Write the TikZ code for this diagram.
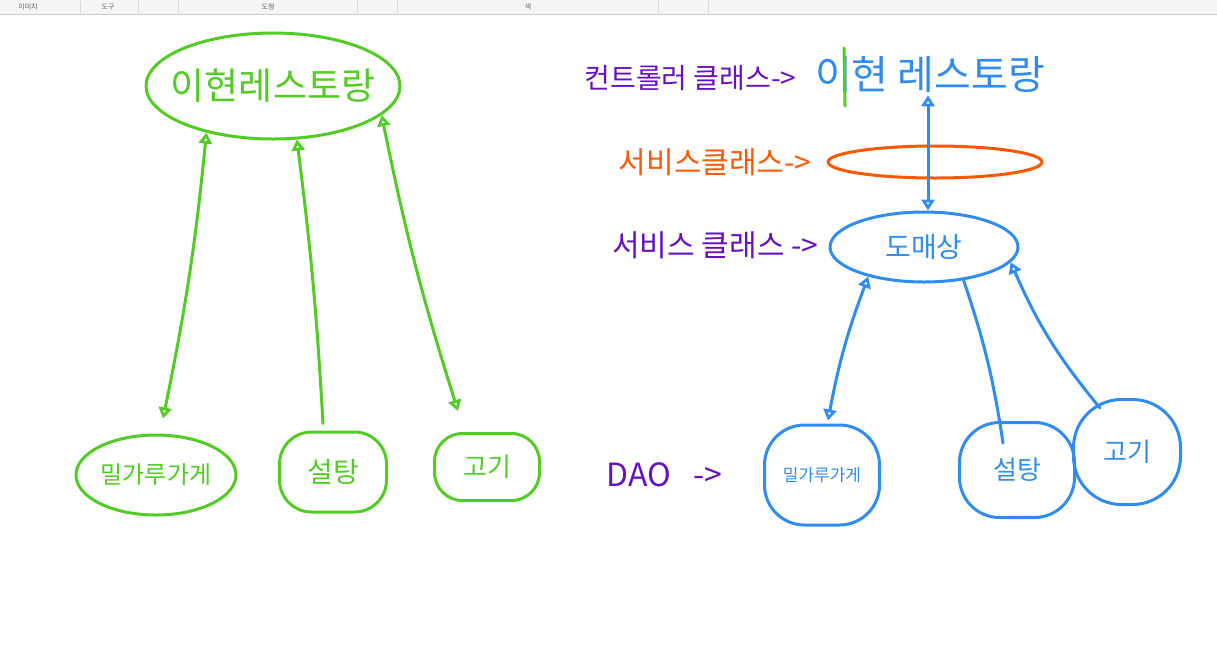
\documentclass[tikz,border=0pt]{standalone}
\usepackage{fontspec}
\setmainfont{Noto Sans CJK KR}
\usetikzlibrary{shapes.geometric,arrows.meta}
\definecolor{penGreen}{RGB}{82,204,36}
\definecolor{penBlue}{RGB}{48,140,240}
\definecolor{penOrange}{RGB}{255,88,0}
\definecolor{penPurple}{RGB}{102,16,196}
\tikzset{
  pen/.style={line width=3pt, line cap=round, line join=round},
  greenpen/.style={pen, draw=penGreen, text=penGreen},
  bluepen/.style={pen, draw=penBlue, text=penBlue},
  oval/.style={shape=ellipse, inner sep=0pt},
  blob/.style={shape=rectangle, rounded corners=#1, inner sep=0pt},
  toolbar/.style={font=\fontsize{7pt}{8pt}\selectfont, text=black!60},
  sz/.style={font=\fontsize{#1pt}{#1pt}\selectfont}
}
\def\tipH{Triangle[open,length=11pt,width=13pt]}
\begin{document}
\begin{tikzpicture}[x=1pt,y=-1pt]
\fill[white] (0,0) rectangle (1217,665);
\useasboundingbox (0,0) rectangle (1217,665);
% toolbar
\fill[black!4] (0,0) rectangle (1217,14);
\draw[black!20, line width=1.5pt] (0,14.5) -- (1217,14.5);
\foreach \x in {80,138,178,357,397,658,708}
  \draw[black!15, line width=0.6pt] (\x,1) -- (\x,13);
\node[toolbar] (tabImage) at (28,7) {이미지};
\node[toolbar] (tabTool) at (108,7) {도구};
\node[toolbar] (tabShape) at (268,7) {도형};
\node[toolbar] (tabColor) at (528,7) {색};
% left: restaurant and suppliers
\node[greenpen, oval, sz=37, inner xsep=-21pt, minimum width=254pt, minimum height=106pt] (resto) at (273,86) {이현레스토랑};
\node[greenpen, oval, sz=24, inner xsep=-4pt, minimum width=160pt, minimum height=80pt] (flour) at (156,475) {밀가루가게};
\node[greenpen, blob=32pt, sz=28, minimum width=107pt, minimum height=80pt] (sugar) at (333,472) {설탕};
\node[greenpen, blob=28pt, sz=26, minimum width=105pt, minimum height=67pt] (meat) at (487,467) {고기};
\draw[greenpen, {\tipH}-{\tipH}] (resto.215) to[bend left=3] ([xshift=7pt,yshift=15pt]flour.north);
\draw[greenpen, {\tipH}-] (resto.294) to[bend left=2] ([xshift=-10pt,yshift=7pt]sugar.north);
\draw[greenpen, {\tipH}-{\tipH}] (resto.345) to[bend right=3] ([xshift=-29pt,yshift=21pt]meat.north);
% right: layers
\node[text=penBlue, sz=40, inner sep=2pt] (restoR) at (930,75) {이현 레스토랑};
\draw[penGreen, pen] (844,48) -- (845,106);
\node[text=penPurple, sz=28, anchor=east] (ctrlLabel) at (800,78) {컨트롤러 클래스->};
\node[pen, draw=penOrange, oval, minimum width=214pt, minimum height=32pt] (svc) at (935,162) {};
\node[text=penOrange, sz=30, anchor=east] (svcLabel) at (815,162) {서비스클래스->};
\node[bluepen, oval, sz=28, minimum width=188pt, minimum height=70pt] (wholesale) at (924,247) {도매상};
\node[text=penPurple, sz=30, anchor=east] (dealerLabel) at (822,245) {서비스 클래스 ->};
\node[bluepen, blob=40pt, sz=17, minimum width=115pt, minimum height=100pt] (flourR) at (822,475) {밀가루가게};
\node[bluepen, blob=40pt, sz=26, minimum width=115pt, minimum height=95pt] (sugarR) at (1017,470) {설탕};
\node[bluepen, blob=48pt, sz=26, minimum width=107pt, minimum height=105pt] (meatR) at (1127,452) {고기};
\node[text=penPurple, sz=32, anchor=west] (daoLabel) at (603,475) {DAO\hspace{22pt}->};
\draw[bluepen, {\tipH}-{\tipH}] ([xshift=4pt]restoR.south -| wholesale.north) -- ([xshift=4pt]wholesale.north);
\draw[bluepen, {\tipH}-{\tipH}] (wholesale.208) to[bend right=5] ([xshift=6pt,yshift=3pt]flourR.north);
\draw[bluepen] (wholesale.-40) to[bend left=5] ([xshift=-14pt,yshift=-22pt]sugarR.north);
\draw[bluepen, {\tipH}-] (wholesale.-10) to[bend right=8] ([xshift=-27pt,yshift=-10pt]meatR.north);
\end{tikzpicture}
\end{document}
